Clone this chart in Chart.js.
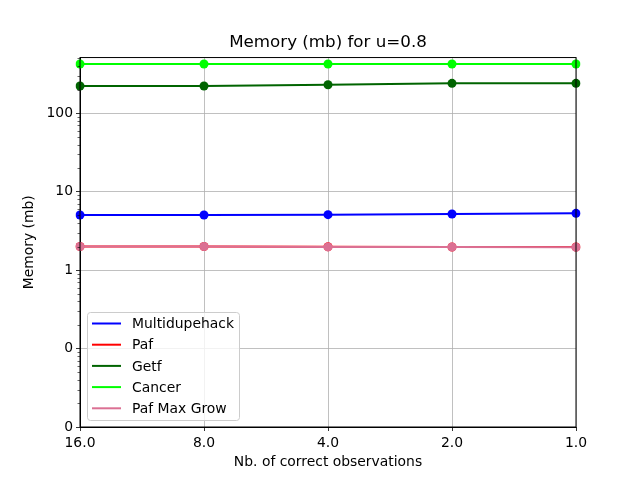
<!DOCTYPE html>
<html>
<head>
<meta charset="utf-8">
<script src="https://cdn.jsdelivr.net/npm/chart.js@4"></script>
<style>
  body { margin: 0; background: #fff; }
</style>
</head>
<body>
<canvas id="chart" width="640" height="480"></canvas>
<script>
const categories = ['16.0', '8.0', '4.0', '2.0', '1.0']
const multidupehack = [5.05, 5.05, 5.1, 5.2, 5.3]
const paf = [2.0, 2.0, 1.99, 1.97, 1.97]
const getf = [223, 223, 231, 241, 241]
const cancer = [425, 425, 425, 425, 425]
const pafMaxGrow = [2.0, 2.0, 1.98, 1.97, 1.96]
const yTicks = [0.01, 0.1, 1, 10, 100]

const FONT = 'DejaVu Sans'

const series = [
  { label: 'Multidupehack', data: multidupehack, color: '#0000ff' },
  { label: 'Paf', data: paf, color: '#ff0000' },
  { label: 'Getf', data: getf, color: '#006400' },
  { label: 'Cancer', data: cancer, color: '#00ff00' },
  { label: 'Paf Max Grow', data: pafMaxGrow, color: '#db7093' }
]

// frame, minor log ticks and the legend box, drawn like matplotlib
const frame = {
  id: 'frame',
  afterDatasetsDraw(chart) {
    const { ctx, chartArea: a } = chart
    const y = chart.scales.y
    ctx.save()
    ctx.strokeStyle = '#000'
    ctx.lineWidth = 1
    ctx.strokeRect(a.left, a.top, a.right - a.left, a.bottom - a.top)
    ctx.beginPath()
    for (let d = 0.01; d < 1000; d *= 10) {
      for (let k = 2; k <= 9; k++) {
        const v = d * k
        if (v < y.min || v > y.max) continue
        const py = Math.round(y.getPixelForValue(v)) + 0.5
        ctx.moveTo(a.left, py)
        ctx.lineTo(a.left - 2.5, py)
      }
    }
    ctx.lineWidth = 0.6
    ctx.stroke()
    ctx.restore()
  },
  afterDraw(chart) {
    const { ctx, chartArea: a } = chart
    const sets = chart.data.datasets
    const left = a.left + 7, bottom = a.bottom - 7
    const w = 152, rowH = 21.2
    const h = sets.length * rowH + 2
    const top = bottom - h
    ctx.save()
    ctx.beginPath()
    ctx.roundRect(left + 0.5, top + 0.5, w, h, 3)
    ctx.fillStyle = 'rgba(255,255,255,0.8)'
    ctx.fill()
    ctx.strokeStyle = '#cccccc'
    ctx.lineWidth = 1
    ctx.stroke()
    ctx.font = '13.9px "' + FONT + '"'
    ctx.textBaseline = 'middle'
    ctx.fillStyle = '#000'
    sets.forEach((ds, i) => {
      const cy = top + 11.5 + i * rowH
      ctx.beginPath()
      ctx.moveTo(left + 5, cy)
      ctx.lineTo(left + 34, cy)
      ctx.strokeStyle = ds.borderColor
      ctx.lineWidth = 2
      ctx.stroke()
      ctx.fillText(ds.label, left + 45, cy + 1)
    })
    ctx.restore()
  }
}

new Chart(document.getElementById('chart'), {
  type: 'line',
  data: {
    labels: categories,
    datasets: series.map((s, i) => ({
      label: s.label,
      data: s.data,
      yAxisID: 'y',
      borderColor: s.color,
      backgroundColor: s.color,
      pointBackgroundColor: s.color,
      pointBorderWidth: 0,
      pointRadius: 4.5,
      borderWidth: 2,
      tension: 0,
      order: series.length - i
    }))
  },
  options: {
    responsive: false,
    animation: false,
    // left padding 16 so the title centres over the plot area
    layout: { padding: { left: 16, right: 0, top: 0, bottom: 0 } },
    plugins: {
      legend: { display: false },
      tooltip: { enabled: false },
      title: {
        display: true,
        text: 'Memory (mb) for u=0.8',
        color: '#000',
        font: { family: FONT, size: 16.7, weight: 'normal' },
        padding: { top: 33, bottom: 4.5 }
      }
    },
    scales: {
      x: {
        type: 'category',
        offset: false,
        grid: { color: '#b0b0b0', lineWidth: 0.8, tickColor: '#000', tickLength: 4, offset: false },
        border: { color: '#000', width: 1 },
        ticks: { color: '#000', font: { family: FONT, size: 13.9 }, padding: 4, maxRotation: 0 },
        title: {
          display: true,
          text: 'Nb. of correct observations',
          color: '#000',
          font: { family: FONT, size: 13.9 },
          padding: { top: 0, bottom: 9.7 }
        },
        afterFit(scale) { scale.height = 53 }
      },
      y: {
        type: 'logarithmic',
        min: 0.01,
        max: 514,
        afterBuildTicks(scale) {
          scale.ticks = yTicks.map(v => ({ value: v, major: true }))
        },
        grid: { color: '#b0b0b0', lineWidth: 0.8, tickColor: '#000', tickLength: 4 },
        border: { color: '#000', width: 1 },
        ticks: {
          color: '#000',
          font: { family: FONT, size: 13.9 },
          padding: 3,
          callback: v => Number(v).toFixed(0)
        },
        title: {
          display: true,
          text: 'Memory (mb)',
          color: '#000',
          font: { family: FONT, size: 13.9 },
          padding: { top: 5, bottom: 0 }
        },
        afterFit(scale) { scale.width = 64 }
      },
      // empty right-hand box that reserves the margin right of the plot
      yr: {
        type: 'linear',
        position: 'right',
        grid: { display: false, drawTicks: false },
        border: { display: false },
        ticks: { display: false },
        afterFit(scale) { scale.width = 64 }
      }
    }
  },
  plugins: [frame]
})
</script>
</body>
</html>
